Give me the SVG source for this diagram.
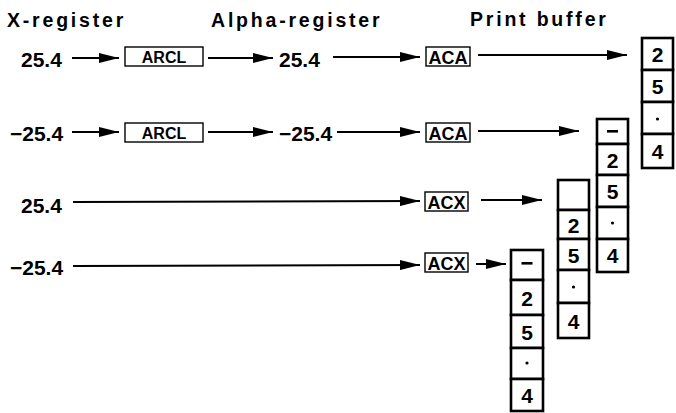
<svg xmlns="http://www.w3.org/2000/svg" width="676" height="413" viewBox="0 0 676 413">
<style>
.hdr{font-family:"Liberation Sans",Arial,sans-serif;font-weight:bold;font-size:19.5px;letter-spacing:2.8px;fill:#000}
.val{font-family:"Liberation Sans",Arial,sans-serif;font-weight:bold;font-size:21px;fill:#000}
.op{font-family:"Liberation Sans",Arial,sans-serif;font-weight:bold;fill:#000;text-anchor:middle}
.arcl{font-size:16px}
.ac{font-size:18px}
.box{fill:#fff;stroke:#000;stroke-width:1.4}
.cell{fill:#fff;stroke:#000;stroke-width:2.6}
.dig{font-family:"Liberation Sans",Arial,sans-serif;font-weight:bold;font-size:21px;fill:#000;text-anchor:middle}
.ln{stroke:#000;stroke-width:2;fill:none;marker-end:url(#ah)}
</style>
<defs>
<marker id="ah" viewBox="0 0 20 10" markerWidth="20" markerHeight="10" refX="20" refY="5" orient="auto" markerUnits="userSpaceOnUse">
<path d="M0,0 L20,5 L0,10 Z" fill="#000"/>
</marker>
</defs>
<rect width="676" height="413" fill="#fff"/>
<g id="headers">
<text class="hdr" x="7" y="27">X-register</text>
<text class="hdr" x="211" y="27">Alpha-register</text>
<text class="hdr" x="470" y="26">Print buffer</text>
</g>
<g id="connectors">
<line class="ln" x1="72" y1="58" x2="119" y2="58"/>
<line class="ln" x1="208" y1="58" x2="273" y2="58"/>
<line class="ln" x1="333" y1="57" x2="420" y2="57"/>
<line class="ln" x1="478" y1="55" x2="627" y2="55"/>
<line class="ln" x1="72" y1="132" x2="119" y2="132"/>
<line class="ln" x1="208" y1="132" x2="273" y2="132"/>
<line class="ln" x1="337" y1="132" x2="420" y2="132"/>
<line class="ln" x1="478" y1="131" x2="579" y2="131"/>
<line class="ln" x1="73" y1="202" x2="420" y2="201"/>
<line class="ln" x1="481" y1="200" x2="542" y2="200"/>
<line class="ln" x1="73" y1="266" x2="420" y2="265"/>
<line class="ln" x1="476" y1="264" x2="506" y2="264"/>
</g>
<g id="row1">
<text class="val" x="21" y="67">25.4</text>
<g id="arcl1"><rect class="box" x="125" y="47" width="78" height="19"/><text class="op arcl" x="164" y="62.5">ARCL</text></g>
<text class="val" x="279" y="67">25.4</text>
<g id="aca1"><rect class="box" x="426" y="47" width="44" height="19"/><text class="op ac" x="448" y="63.5">ACA</text></g>
</g>
<g id="row2">
<text class="val" x="10" y="141">−25.4</text>
<g id="arcl2"><rect class="box" x="125" y="123" width="78" height="19"/><text class="op arcl" x="164" y="138.5">ARCL</text></g>
<text class="val" x="279" y="141">−25.4</text>
<g id="aca2"><rect class="box" x="426" y="123" width="44" height="19"/><text class="op ac" x="448" y="139.5">ACA</text></g>
</g>
<g id="row3">
<text class="val" x="21" y="213">25.4</text>
<g id="acx1"><rect class="box" x="425" y="192" width="43" height="19"/><text class="op ac" x="446.5" y="208.5">ACX</text></g>
</g>
<g id="row4">
<text class="val" x="10" y="275">−25.4</text>
<g id="acx2"><rect class="box" x="425" y="253" width="43" height="19"/><text class="op ac" x="446.5" y="269.5">ACX</text></g>
</g>
<g id="bufferA">
<rect class="cell" x="642" y="38" width="31" height="32"/>
<rect class="cell" x="642" y="70" width="31" height="32"/>
<rect class="cell" x="642" y="102" width="31" height="32"/>
<rect class="cell" x="642" y="134" width="31" height="34"/>
<text class="dig" x="657.5" y="61.5">2</text>
<text class="dig" x="657.5" y="93.5">5</text>
<circle cx="657.5" cy="119" r="1.6"/>
<text class="dig" x="657.5" y="158.5">4</text>
</g>
<g id="bufferB">
<rect class="cell" x="597" y="119" width="31" height="25"/>
<rect class="cell" x="597" y="144" width="31" height="31"/>
<rect class="cell" x="597" y="175" width="31" height="32"/>
<rect class="cell" x="597" y="207" width="31" height="32"/>
<rect class="cell" x="597" y="239" width="31" height="33"/>
<rect x="607" y="130" width="11" height="2.6" fill="#000"/>
<text class="dig" x="612.5" y="167.5">2</text>
<text class="dig" x="612.5" y="198.5">5</text>
<circle cx="612.5" cy="223" r="1.6"/>
<text class="dig" x="612.5" y="263">4</text>
</g>
<g id="bufferC">
<rect class="cell" x="558" y="180" width="31" height="30"/>
<rect class="cell" x="558" y="210" width="31" height="29"/>
<rect class="cell" x="558" y="239" width="31" height="31"/>
<rect class="cell" x="558" y="270" width="31" height="33"/>
<rect class="cell" x="558" y="303" width="31" height="35"/>
<text class="dig" x="573.5" y="232.5">2</text>
<text class="dig" x="573.5" y="262.5">5</text>
<circle cx="573.5" cy="287" r="1.6"/>
<text class="dig" x="573.5" y="328.5">4</text>
</g>
<g id="bufferD">
<rect class="cell" x="511" y="250" width="32" height="30"/>
<rect class="cell" x="511" y="280" width="32" height="35"/>
<rect class="cell" x="511" y="315" width="32" height="33"/>
<rect class="cell" x="511" y="348" width="32" height="31"/>
<rect class="cell" x="511" y="379" width="32" height="32"/>
<rect x="521.5" y="262" width="11" height="2.6" fill="#000"/>
<text class="dig" x="527" y="305.5">2</text>
<text class="dig" x="527" y="339.5">5</text>
<circle cx="527" cy="363" r="1.6"/>
<text class="dig" x="527" y="402.5">4</text>
</g>
</svg>
